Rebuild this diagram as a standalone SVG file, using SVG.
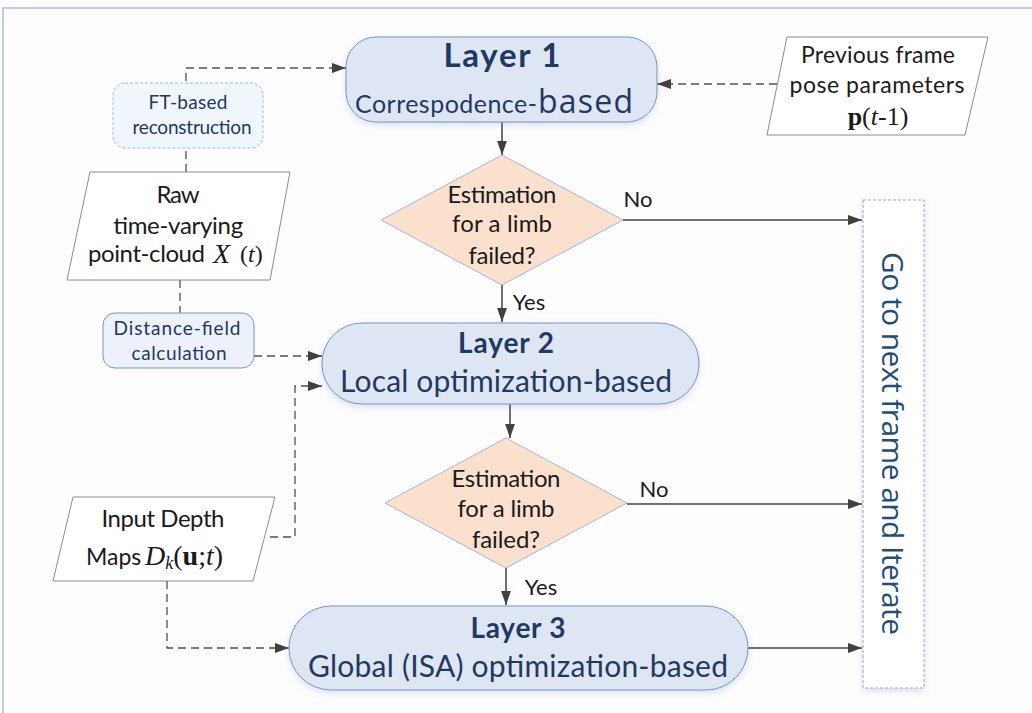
<svg xmlns="http://www.w3.org/2000/svg" width="1032" height="713" viewBox="0 0 1032 713">
<style>
.layer{fill:#dfe6f3;stroke:#7b93c4;stroke-width:1}
.dia{fill:#fbe1cd;stroke:#a6b6d4;stroke-width:1}
.para{fill:#ffffff;stroke:#8c8c8c;stroke-width:1}
.aux{fill:#edf2fa;stroke:#7b93c4;stroke-width:1}
.t{font-family:Lato,"Liberation Sans",sans-serif;text-anchor:middle}
.s{font-family:Lato,"Liberation Sans",sans-serif}
.dk{fill:#1f3864}
.bk{fill:#1a1a1a}
.m{font-family:"Liberation Serif","DejaVu Serif",serif;fill:#1a1a1a}
.c{fill:none;stroke:#404040;stroke-width:1.5}
.d{fill:none;stroke:#505050;stroke-width:1.3;stroke-dasharray:8,5}
</style>
<defs>
<marker id="ahb" viewBox="0 0 10 10" refX="10" refY="5" markerWidth="14" markerHeight="14" markerUnits="userSpaceOnUse" orient="auto">
<path d="M0,1.5 L10,5 L0,8.5 z" fill="#404040"/>
</marker>
<filter id="sh" x="-10%" y="-10%" width="120%" height="130%">
<feDropShadow dx="0" dy="3" stdDeviation="3" flood-color="#6f8fc8" flood-opacity="0.25"/>
</filter>
</defs>
<rect x="0" y="0" width="1032" height="713" fill="#fdfdfd"/>
<rect x="3" y="8" width="1040" height="720" fill="none" stroke="#a9bde0" stroke-width="1.5"/>

<g id="connectors">
<path class="d" d="M186,172 V68 H346" marker-end="url(#ahb)"/>
<path class="d" d="M777,84 H657" marker-end="url(#ahb)"/>
<path class="d" d="M180,280 V313"/>
<path class="d" d="M254,356 H322" marker-end="url(#ahb)"/>
<path class="d" d="M270,537 H295 V386 H322" marker-end="url(#ahb)"/>
<path class="d" d="M167,581 V648 H289" marker-end="url(#ahb)"/>
<path class="c" d="M502,122 V155" marker-end="url(#ahb)"/>
<path class="c" d="M502,285 V322" marker-end="url(#ahb)"/>
<path class="c" d="M623,220 H862" marker-end="url(#ahb)"/>
<path class="c" d="M510,404 V438" marker-end="url(#ahb)"/>
<path class="c" d="M506,568 V605" marker-end="url(#ahb)"/>
<path class="c" d="M627,504 H862" marker-end="url(#ahb)"/>
<path class="c" d="M748,648 H862" marker-end="url(#ahb)"/>
<text class="t bk" x="638" y="207" font-size="22">No</text>
<text class="t bk" x="529" y="310" font-size="22">Yes</text>
<text class="t bk" x="654" y="497" font-size="22">No</text>
<text class="t bk" x="541" y="595" font-size="22">Yes</text>
</g>

<g id="ft">
<rect x="113" y="83" width="150" height="65" rx="12" fill="#f1f6fd" stroke="#8ec2e6" stroke-width="1" stroke-dasharray="3,2"/>
<text class="t dk" x="188" y="109" font-size="19" textLength="79">FT-based</text>
<text class="t dk" x="192" y="134" font-size="19" textLength="119">reconstruction</text>
</g>

<g id="layer1">
<rect class="layer" x="346" y="37" width="311" height="85" rx="30" filter="url(#sh)"/>
<text class="t dk" x="502" y="67" font-size="33" font-weight="bold" textLength="117">Layer 1</text>
<text class="s dk" x="355" y="113" font-size="25" textLength="182">Correspodence-</text>
<text class="dk" x="538" y="113" font-size="32" font-family="'Open Sans','Liberation Sans',sans-serif" textLength="95">based</text>
</g>

<g id="prev">
<polygon class="para" points="787,37 988,37 965,135 767,135"/>
<text class="t bk" x="878" y="63" font-size="23" textLength="154">Previous frame</text>
<text class="t bk" x="877" y="93" font-size="23" textLength="175">pose parameters</text>
<text class="m" x="878" y="125" font-size="26" text-anchor="middle"><tspan font-weight="bold">p</tspan>(<tspan font-style="italic">t</tspan>-1)</text>
</g>

<g id="dec1">
<polygon class="dia" points="502,155 623,220 502,285 381,220"/>
<text class="t bk" x="502" y="203" font-size="24" textLength="109">Estimation</text>
<text class="t bk" x="502" y="232" font-size="24" textLength="100">for a limb</text>
<text class="t bk" x="502" y="264" font-size="24" textLength="67">failed?</text>
</g>

<g id="raw">
<polygon class="para" points="90,172 290,172 270,280 67,280"/>
<text class="t bk" x="178" y="203" font-size="24" textLength="43">Raw</text>
<text class="t bk" x="178" y="234" font-size="24" textLength="130">time-varying</text>
<text class="s bk" x="88" y="262" font-size="24" textLength="117">point-cloud</text>
<text class="m" x="213" y="263" font-size="28" font-style="italic">X</text>
<text class="m" x="240" y="262" font-size="24">(<tspan font-style="italic">t</tspan>)</text>
</g>

<g id="dist">
<rect class="aux" x="103" y="313" width="151" height="55" rx="12"/>
<text class="t dk" x="177" y="335" font-size="19" textLength="127">Distance-field</text>
<text class="t dk" x="179" y="360" font-size="19" textLength="95">calculation</text>
</g>

<g id="layer2">
<rect class="layer" x="322" y="323" width="377" height="81" rx="40" filter="url(#sh)"/>
<text class="t dk" x="506" y="353" font-size="28" font-weight="bold" textLength="96">Layer 2</text>
<text class="t dk" x="506" y="392" font-size="30" textLength="332">Local optimization-based</text>
</g>

<g id="dec2">
<polygon class="dia" points="506,438 627,503 506,568 385,503"/>
<text class="t bk" x="506" y="487" font-size="24" textLength="109">Estimation</text>
<text class="t bk" x="506" y="517" font-size="24" textLength="97">for a limb</text>
<text class="t bk" x="506" y="548" font-size="24" textLength="68">failed?</text>
</g>

<g id="depth">
<polygon class="para" points="73,497 275,497 253,581 53,581"/>
<text class="t bk" x="163" y="527" font-size="24" textLength="123">Input Depth</text>
<text class="s bk" x="86" y="565" font-size="23">Maps</text>
<text class="m" x="145" y="565" font-size="28"><tspan font-style="italic">D</tspan><tspan font-style="italic" font-size="18" dy="4">k</tspan><tspan dy="-4">(</tspan><tspan font-weight="bold">u</tspan>;<tspan font-style="italic">t</tspan>)</text>
</g>

<g id="layer3">
<rect class="layer" x="289" y="606" width="459" height="84" rx="42" filter="url(#sh)"/>
<text class="t dk" x="518" y="638" font-size="28" font-weight="bold" textLength="95">Layer 3</text>
<text class="t dk" x="518" y="677" font-size="30" textLength="420">Global (ISA) optimization-based</text>
</g>

<g id="next">
<rect x="863" y="200" width="61" height="488" fill="#ffffff" stroke="#a0a8b4" stroke-width="1" stroke-dasharray="3,2" filter="url(#sh)"/>
<text transform="translate(882,252) rotate(90)" x="0" y="0" font-family="'Open Sans','Liberation Sans',sans-serif" font-size="30" fill="#1f4e79" textLength="383">Go to next frame and Iterate</text>
</g>
</svg>
